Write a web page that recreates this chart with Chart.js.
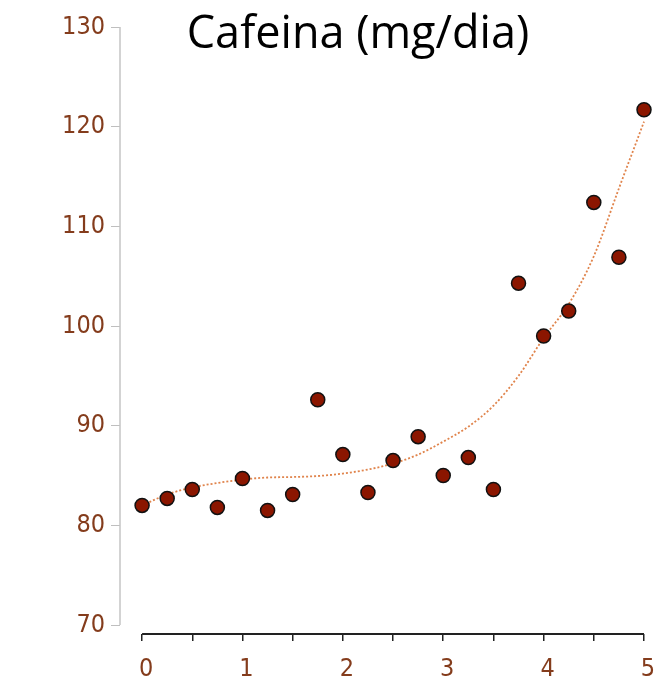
<!DOCTYPE html>
<html>
<head>
<meta charset="utf-8">
<script src="https://cdn.jsdelivr.net/npm/chart.js@4/dist/chart.umd.min.js"></script>
<style>
  body { margin: 0; background: #fff; }
  #wrap { width: 667px; height: 687px; }
</style>
</head>
<body>
<div id="wrap"><canvas id="chart" width="667" height="687"></canvas></div>
<script>
// --- DATOS ---
const xValues = [0, 0.25, 0.5, 0.75, 1, 1.25, 1.5, 1.75, 2, 2.25, 2.5, 2.75, 3, 3.25, 3.5, 3.75, 4, 4.25, 4.5, 4.75, 5];
const cafeina = [82.0, 82.7, 83.6, 81.8, 84.7, 81.5, 83.1, 92.6, 87.1, 83.3, 86.5, 88.9, 85.0, 86.8, 83.6, 104.3, 99.0, 101.5, 112.4, 106.9, 121.7];
const tendencia = [82.0, 83.1, 83.8, 84.25, 84.6, 84.8, 84.85, 84.95, 85.2, 85.6, 86.2, 87.1, 88.4, 89.9, 92.0, 95.0, 98.8, 102.2, 107.0, 113.8, 120.5];
const yTicks = [70, 80, 90, 100, 110, 120, 130];
const xTicks = [0, 0.5, 1, 1.5, 2, 2.5, 3, 3.5, 4, 4.5, 5];
const titulo = 'Cafeina (mg/dia)';

const BROWN = '#843c1c';
const tickFont = { family: '"DejaVu Sans Condensed", "Liberation Sans", sans-serif', size: 25 };

// ejes separados y título dibujados a mano
const axesPlugin = {
  id: 'axesPlugin',
  afterDraw(chart) {
    const { ctx, chartArea, scales: { x, y } } = chart;
    ctx.save();
    // eje y (gris) de 130 a 70
    ctx.strokeStyle = '#c4c4c4';
    ctx.lineWidth = 1.5;
    ctx.beginPath();
    ctx.moveTo(chartArea.left, y.getPixelForValue(yTicks[yTicks.length - 1]));
    ctx.lineTo(chartArea.left, y.getPixelForValue(yTicks[0]));
    ctx.stroke();
    // eje x (negro) de 0 a 5
    ctx.strokeStyle = '#222';
    ctx.lineWidth = 2;
    ctx.beginPath();
    ctx.moveTo(x.getPixelForValue(xTicks[0]), chartArea.bottom);
    ctx.lineTo(x.getPixelForValue(xTicks[xTicks.length - 1]), chartArea.bottom);
    ctx.stroke();
    // título
    ctx.fillStyle = '#000';
    ctx.font = '45px "Open Sans", sans-serif';
    ctx.textAlign = 'center';
    ctx.textBaseline = 'alphabetic';
    ctx.fillText(titulo, 358, 48);
    ctx.restore();
  }
};

new Chart(document.getElementById('chart'), {
  type: 'scatter',
  data: {
    datasets: [
      {
        label: 'Cafeina',
        data: xValues.map((v, i) => ({ x: v, y: cafeina[i] })),
        pointRadius: 7,
        pointBackgroundColor: '#8b1600',
        pointBorderColor: '#111',
        pointBorderWidth: 1.5,
        clip: false
      },
      {
        label: 'Tendencia',
        data: xValues.map((v, i) => ({ x: v, y: tendencia[i] })),
        showLine: true,
        pointRadius: 0,
        borderColor: '#e0844c',
        borderWidth: 1.8,
        borderDash: [2, 2],
        cubicInterpolationMode: 'monotone',
        clip: false
      }
    ]
  },
  options: {
    responsive: false,
    animation: false,
    layout: { padding: { top: 27, right: 23, left: 0, bottom: 0 } },
    plugins: { legend: { display: false }, tooltip: { enabled: false }, title: { display: false } },
    scales: {
      x: {
        type: 'linear',
        min: -0.22,
        max: 5,
        afterBuildTicks: (s) => { s.ticks = xTicks.map(v => ({ value: v })); },
        afterFit: (s) => { s.height = 53; },
        border: { display: false },
        grid: { drawOnChartArea: false, drawTicks: true, tickLength: 7, color: '#222', lineWidth: 1.5 },
        ticks: {
          autoSkip: false,
          maxRotation: 0,
          padding: 13,
          labelOffset: 4,
          color: BROWN,
          font: tickFont,
          callback: (v) => Number.isInteger(v) ? String(v) : ''
        }
      },
      y: {
        min: 69.1,
        max: 130,
        afterBuildTicks: (s) => { s.ticks = yTicks.map(v => ({ value: v })); },
        afterFit: (s) => { s.width = 120; },
        border: { display: false },
        grid: { drawOnChartArea: false, drawTicks: true, tickLength: 9, color: '#bfbfbf', lineWidth: 1 },
        ticks: { padding: 6, color: BROWN, font: tickFont }
      }
    }
  },
  plugins: [axesPlugin]
});
</script>
</body>
</html>
